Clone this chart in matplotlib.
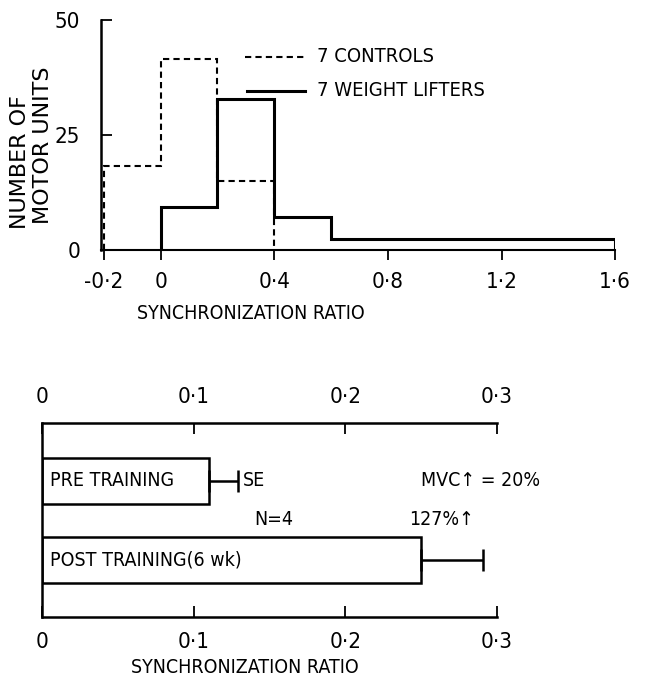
import matplotlib.pyplot as plt

plt.rcParams['font.family'] = ['DejaVu Sans']
plt.rcParams['font.stretch'] = 'condensed'

# Top: histogram of synchronization ratio
ctrl_edges = [-0.2, 0.0, 0.2, 0.4]
ctrl_counts = [18.3, 41.5, 15.0]
lift_edges = [0.0, 0.2, 0.4, 0.6, 1.6]
lift_counts = [9.3, 32.8, 7.1, 2.3]
top_xticks = [-0.2, 0.0, 0.4, 0.8, 1.2, 1.6]
top_xlabels = ['-0·2', '0', '0·4', '0·8', '1·2', '1·6']

# Bottom: pre / post training
groups = ['PRE TRAINING', 'POST TRAINING(6 wk)']
means = [0.110, 0.250]
se = [0.019, 0.041]
bot_ticks = [0.0, 0.1, 0.2, 0.3]
bot_labels = ['0', '0·1', '0·2', '0·3']

fig = plt.figure(figsize=(6.51, 6.79), dpi=100)

ax1 = fig.add_axes([0.155, 0.632, 0.79, 0.339])
ax1.stairs(ctrl_counts, ctrl_edges, baseline=0, color='black', lw=1.5,
           linestyle=(0, (3, 2)))
ax1.stairs(lift_counts, lift_edges, baseline=0, color='black', lw=2.2)
ax1.set_xlim(-0.21, 1.6)
ax1.set_ylim(0, 50)
ax1.spines['top'].set_visible(False)
ax1.spines['right'].set_visible(False)
ax1.spines['left'].set_linewidth(1.8)
ax1.spines['bottom'].set_linewidth(1.5)
ax1.set_xticks(top_xticks)
ax1.set_xticklabels(top_xlabels, fontsize=16)
ax1.set_yticks([0, 25, 50])
ax1.set_yticklabels(['0', '25', '50'], fontsize=16)
ax1.tick_params(axis='x', direction='out', length=7, width=1.3, pad=9)
ax1.tick_params(axis='y', direction='in', length=8, width=1.3, pad=15)
ax1.set_xlabel('SYNCHRONIZATION RATIO', fontsize=14)
ax1.xaxis.set_label_coords(0.292, -0.235)

# y label: two lines placed separately, as lettered in the original
fig.text(20.5 / 651, 1 - 162 / 679, 'NUMBER OF', rotation=90, fontsize=16,
         fontstretch='normal', ha='center', va='center')
fig.text(43.5 / 651, 1 - 145 / 679, 'MOTOR UNITS', rotation=90, fontsize=16,
         fontstretch='normal', ha='center', va='center')

# legend drawn by hand like the original figure
ax1.plot([0.296, 0.508], [42.0, 42.0], color='black', lw=1.5,
         linestyle=(0, (3, 2)), clip_on=False)
ax1.text(0.55, 42.0, '7 CONTROLS', fontsize=14.5, va='center')
ax1.plot([0.305, 0.508], [34.6, 34.6], color='black', lw=2.2, clip_on=False)
ax1.text(0.55, 34.6, '7 WEIGHT LIFTERS', fontsize=14.5, va='center')

ax2 = fig.add_axes([0.0645, 0.092, 0.6985, 0.2855])
ypos = [0.70, 0.293]
ax2.barh(ypos, means, height=0.235, color='white', edgecolor='black', lw=1.8)
for y, m, s in zip(ypos, means, se):
    ax2.errorbar(m + s / 2, y, xerr=s / 2, fmt='none', ecolor='black',
                 elinewidth=1.8, capsize=8, capthick=1.8)
for y, g in zip(ypos, groups):
    ax2.text(0.005, y, g, fontsize=14, va='center')
ax2.text(0.1325, 0.70, 'SE', fontsize=14, va='center')
ax2.text(0.250, 0.70, 'MVC↑ = 20%', fontsize=14, va='center')
ax2.text(0.140, 0.50, 'N=4', fontsize=14, va='center')
ax2.text(0.242, 0.50, '127%↑', fontsize=14, va='center')
ax2.set_xlim(0, 0.3)
ax2.set_ylim(0, 1)
ax2.spines['right'].set_visible(False)
for sp in ['top', 'bottom', 'left']:
    ax2.spines[sp].set_linewidth(1.8)
ax2.set_yticks([])
ax2.set_xticks(bot_ticks)
ax2.set_xticklabels(bot_labels, fontsize=16)
ax2.tick_params(axis='x', direction='in', length=8, width=1.3, top=True,
                labeltop=True, pad=11)
ax2.set_xlabel('SYNCHRONIZATION RATIO', fontsize=14)
ax2.xaxis.set_label_coords(0.446, -0.215)

fig.savefig('out.png', dpi=100)
